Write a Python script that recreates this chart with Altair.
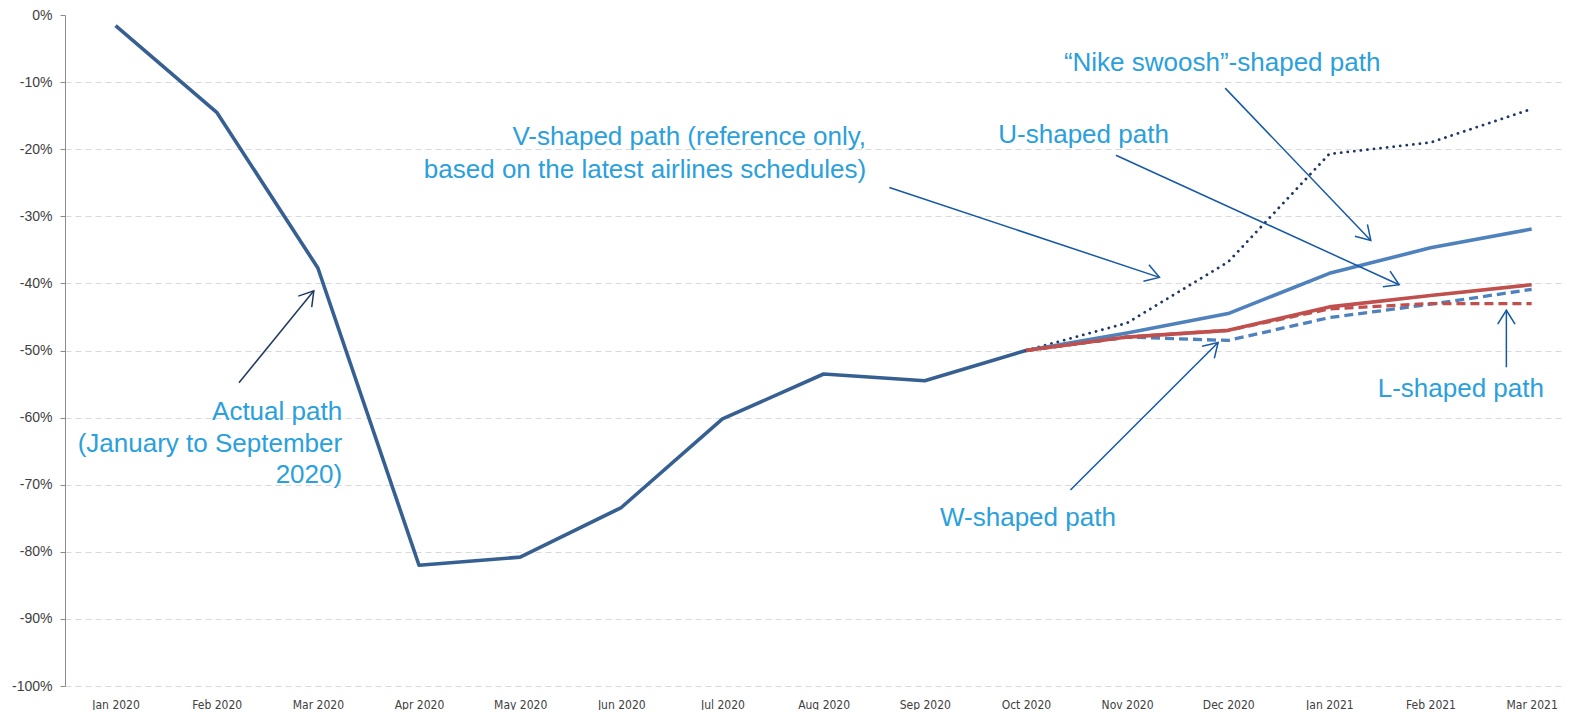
import json
import math
import altair as alt
import pandas as pd

# ---------------- data ----------------
months = ["Jan 2020", "Feb 2020", "Mar 2020", "Apr 2020", "May 2020", "Jun 2020",
          "Jul 2020", "Aug 2020", "Sep 2020", "Oct 2020", "Nov 2020", "Dec 2020",
          "Jan 2021", "Feb 2021", "Mar 2021"]
actual_months = months[:10]
actual = [-1.6, -14.5, -37.7, -82.0, -80.8, -73.4, -60.2, -53.5, -54.5, -50.0]

scenario_months = months[9:]
v_shaped = [-50.0, -45.9, -36.8, -20.7, -19.0, -14.0]
nike_swoosh = [-50.0, -47.4, -44.5, -38.5, -34.7, -31.9]
u_shaped = [-50.0, -48.0, -47.0, -43.5, -41.8, -40.2]
w_shaped = [-50.0, -48.0, -48.5, -45.1, -43.1, -40.9]
l_shaped = [-50.0, -48.0, -47.0, -43.8, -43.0, -43.0]

y_ticks = [0, -10, -20, -30, -40, -50, -60, -70, -80, -90, -100]

# annotation texts: (text, month position, value)
labels_right = [
    ("Actual path", 2.24, -59.1),
    ("(January to September", 2.24, -64.0),
    ("2020)", 2.24, -68.6),
    ("V-shaped path (reference only,", 7.42, -18.2),
    ("based on the latest airlines schedules)", 7.42, -23.1),
]
labels_center = [
    ("U-shaped path", 9.57, -17.9),
    ("\u201cNike swoosh\u201d-shaped path", 10.94, -7.2),
    ("L-shaped path", 13.30, -55.7),
    ("W-shaped path", 9.02, -74.9),
]
# arrows: (name, start pos, start value, end pos, end value)
arrows = [
    ("actual", 1.22, -54.8, 1.96, -41.1),
    ("v", 7.65, -25.7, 10.32, -39.1),
    ("u", 9.89, -20.9, 12.69, -40.2),
    ("nike", 10.97, -10.9, 12.41, -33.6),
    ("l", 13.75, -52.5, 13.75, -44.0),
    ("w", 9.44, -70.8, 10.90, -48.8),
]

# ---------------- layout ----------------
W, H = 1497, 671
X_DOMAIN = [-0.5, 14.3]
STEP = W / (X_DOMAIN[1] - X_DOMAIN[0])
PY = H / 100.0

rows = []
for m, v in zip(actual_months, actual):
    rows.append({"series": "Actual", "idx": months.index(m), "value": v})
for name, vals in [("V", v_shaped), ("Nike", nike_swoosh), ("U", u_shaped),
                   ("W", w_shaped), ("L", l_shaped)]:
    for m, v in zip(scenario_months, vals):
        rows.append({"series": name, "idx": months.index(m), "value": v})
df = pd.DataFrame(rows)

arrow_df = pd.DataFrame([
    {"name": a[0], "idx": a[1], "value": a[2], "idx2": a[3], "value2": a[4],
     "angle": (math.degrees(math.atan2((a[3] - a[1]) * STEP, (a[4] - a[2]) * PY)) + 360) % 360}
    for a in arrows
])
head_df = arrow_df[["name", "idx2", "value2", "angle"]].rename(columns={"idx2": "idx", "value2": "value"})
txt_r = pd.DataFrame([{"text": t, "idx": x, "value": y} for t, x, y in labels_right])
txt_c = pd.DataFrame([{"text": t, "idx": x, "value": y} for t, x, y in labels_center])

label_expr = json.dumps(months) + "[datum.value]"

x_enc = alt.X("idx:Q",
              scale=alt.Scale(domain=X_DOMAIN, nice=False, zero=False),
              axis=alt.Axis(values=list(range(len(months))), labelExpr=label_expr,
                            grid=False, domain=False, ticks=False, labelPadding=13,
                            labelFont="Liberation Sans Narrow, DejaVu Sans Condensed, sans-serif",
                            labelFontSize=12, labelColor="#404040", title=None,
                            labelFlush=False))
y_enc = alt.Y("value:Q",
              scale=alt.Scale(domain=[-100, 0], nice=False, zero=False),
              axis=alt.Axis(values=y_ticks, labelExpr="datum.value + '%'",
                            grid=True, gridColor="#D9D9D9", gridDash=[6, 4], gridWidth=1,
                            gridOpacity={"condition": {"test": "datum.value == 0", "value": 0}, "value": 1},
                            domainColor="#8C8C8C", tickColor="#8C8C8C", tickSize=5,
                            labelPadding=8, labelFont="Liberation Sans", labelFontSize=14,
                            labelColor="#404040", title=None))

base = alt.Chart(df).encode(x=x_enc, y=y_enc)


def line(series, color, width, dash=None, cap="butt"):
    kw = dict(color=color, strokeWidth=width, strokeCap=cap, strokeJoin="round")
    if dash:
        kw["strokeDash"] = dash
    return base.transform_filter(alt.datum.series == series).mark_line(**kw)


layers = [
    line("Actual", "#376092", 3.6),
    line("V", "#1F3864", 2.8, [0.1, 6.5], "round"),
    line("Nike", "#4F81BD", 3.6),
    line("W", "#4F81BD", 3.3, [9, 5]),
    line("U", "#C0504D", 3.6),
    line("L", "#C0504D", 3.3, [9, 5]),
]

arrow_color = "#1458A6"
rules = alt.Chart(arrow_df).mark_rule(strokeWidth=1.5).encode(
    x=x_enc, y=y_enc, x2="idx2:Q", y2="value2:Q",
    color=alt.condition(alt.datum.name == "actual", alt.value("#1F3A60"), alt.value(arrow_color)),
)
heads = alt.Chart(head_df).mark_point(
    shape="M -0.62 1 L 0 0 L 0.62 1", filled=False, size=780, strokeWidth=1.5, opacity=1
).encode(
    x=x_enc, y=y_enc,
    angle=alt.Angle("angle:Q", scale=None),
    color=alt.condition(alt.datum.name == "actual", alt.value("#1F3A60"), alt.value(arrow_color)),
)
text_color = "#2AA0DC"
texts_r = alt.Chart(txt_r).mark_text(align="right", baseline="middle", font="Liberation Sans",
                                     fontSize=26, color=text_color).encode(x=x_enc, y=y_enc, text="text:N")
texts_c = alt.Chart(txt_c).mark_text(align="center", baseline="middle", font="Liberation Sans",
                                     fontSize=26, color=text_color).encode(x=x_enc, y=y_enc, text="text:N")

chart = alt.layer(*layers, rules, heads, texts_r, texts_c).properties(
    width=W, height=H,
    padding={"left": 3, "top": 0, "right": 0, "bottom": 0},
    background="white",
).configure_view(strokeWidth=0)

chart.save("out.html", embed_options={"renderer": "svg", "actions": False})
